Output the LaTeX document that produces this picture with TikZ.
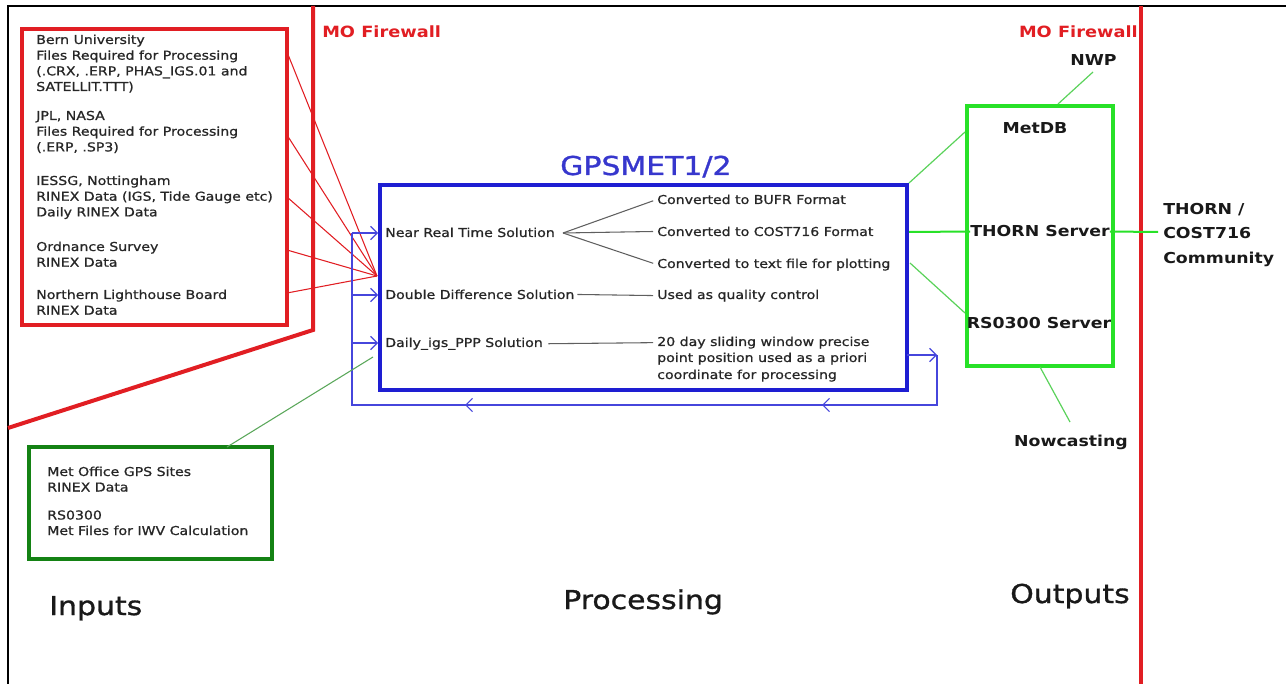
\documentclass[tikz,border=0pt]{standalone}
\usepackage{fontspec}
\setmainfont{DejaVu Sans}[FakeStretch=1.15]
\setsansfont{DejaVu Sans}[FakeStretch=1.15]
\newfontfamily\smallfnt{DejaVu Sans}[FakeStretch=1.15, FakeBold=0.9]
\newfontfamily\headfnt{DejaVu Sans}[FakeStretch=1.15, FakeBold=1.2]
\usetikzlibrary{arrows.meta,decorations.markings}
\definecolor{fwred}{RGB}{225,30,35}
\definecolor{bbox}{RGB}{30,30,210}
\definecolor{btitle}{RGB}{55,55,205}
\definecolor{bthin}{RGB}{70,70,220}
\definecolor{gbright}{RGB}{40,225,40}
\definecolor{gthin}{RGB}{90,210,90}
\definecolor{gdark}{RGB}{20,130,20}
\definecolor{greyline}{RGB}{95,95,95}
\tikzset{
  small/.style={font=\smallfnt\fontsize{9.2}{11}\selectfont, inner sep=0pt, anchor=base west, text=black!85},
  label/.style={font=\bfseries\fontsize{11.3}{13}\selectfont, inner sep=0pt, anchor=base, text=black!90},
  header/.style={font=\headfnt\fontsize{19.5}{22}\selectfont, inner sep=0pt, anchor=base west, text=black!90},
  fwtext/.style={font=\bfseries\fontsize{11.6}{13}\selectfont, inner sep=0pt, text=fwred},
  boxshape/.style={draw, line width=3pt, inner sep=0pt, fill=none},
  thinblue/.style={draw=bthin, line width=0.9pt},
  barb/.style={-{Straight Barb[length=5pt,width=10pt]}},
  fan/.style={draw=greyline, line width=0.8pt},
  gline/.style={draw=gthin, line width=0.9pt},
  gthick/.style={color=gbright, line width=1.5pt},
}
\begin{document}
\begin{tikzpicture}[x=0.75pt,y=-0.75pt]
\useasboundingbox (0,0) rectangle (1286,684);
% frame
\coordinate (ftl) at (8,6);
\coordinate (ftr) at (1286,6);
\coordinate (fbl) at (8,684);
\draw[line width=1.6pt] (ftr) -- (ftl) -- (fbl);
% firewalls
\coordinate (fw1a) at (313,6);
\coordinate (fw1b) at (313,330);
\coordinate (fw1c) at (8,428);
\draw[fwred, line width=3pt] (fw1a) -- (fw1b) -- (fw1c);
\coordinate (fw2a) at (1141,6);
\coordinate (fw2b) at (1141,684);
\draw[fwred, line width=2.6pt] (fw2a) -- (fw2b);
\node[fwtext, anchor=base west] (fwl) at (322,38) {MO Firewall};
\node[fwtext, anchor=base east] (fwr) at (1138,38) {MO Firewall};

% red input box
\node[boxshape, draw=fwred, minimum width=198.75pt, minimum height=222pt] (redbox) at (154.5,177) {};
\node[small] (b1) at (36,44) {Bern University};
\node[small] (b2) at (36,59.7) {Files Required for Processing};
\node[small] (b3) at (36,75.4) {(.CRX, .ERP, PHAS\_IGS.01 and};
\node[small] (b4) at (36,91) {SATELLIT.TTT)};
\node[small] (j1) at (36,120) {JPL, NASA};
\node[small] (j2) at (36,135.7) {Files Required for Processing};
\node[small] (j3) at (36,151.4) {(.ERP, .SP3)};
\node[small] (i1) at (36,185) {IESSG, Nottingham};
\node[small] (i2) at (36,200.7) {RINEX Data (IGS, Tide Gauge etc)};
\node[small] (i3) at (36,216.4) {Daily RINEX Data};
\node[small] (o1) at (36,251) {Ordnance Survey};
\node[small] (o2) at (36,266.7) {RINEX Data};
\node[small] (n1) at (36,299) {Northern Lighthouse Board};
\node[small] (n2) at (36,314.7) {RINEX Data};

% green input box
\node[boxshape, draw=gdark, minimum width=182.25pt, minimum height=84pt] (gbox) at (150.5,503) {};
\node[small] (g1) at (47,476) {Met Office GPS Sites};
\node[small] (g2) at (47,491.5) {RINEX Data};
\node[small] (g3) at (47,519.5) {RS0300};
\node[small] (g4) at (47,535) {Met Files for IWV Calculation};

% GPSMET box
\node[boxshape, draw=bbox, minimum width=395.25pt, minimum height=153.75pt] (gps) at (643.5,287.5) {};
\node[header, text=btitle] (gpst) at (560,175) {GPSMET1/2};
\node[small] (nrt) at (385,237) {Near Real Time Solution};
\node[small] (dd) at (385,299) {Double Difference Solution};
\node[small] (dly) at (385,347) {Daily\_igs\_PPP Solution};
\node[small] (bufr) at (657,204) {Converted to BUFR Format};
\node[small] (cost) at (657,236) {Converted to COST716 Format};
\node[small] (txt) at (657,268) {Converted to text file for plotting};
\node[small] (qc) at (657,299) {Used as quality control};
\node[small] (p1) at (657,346) {20 day sliding window precise};
\node[small] (p2) at (657,362) {point position used as a priori};
\node[small] (p3) at (657,379) {coordinate for processing};

% grey fan lines
\coordinate (fanpt) at (563,233);
\draw[fan, shorten >=3pt] (fanpt) -- (bufr.west);
\draw[fan, shorten >=3pt] (fanpt) -- (cost.west);
\draw[fan, shorten >=3pt] (fanpt) -- (txt.west);
\draw[fan, shorten <=2pt, shorten >=3pt] (dd.east) -- (qc.west);
\draw[fan, shorten <=4pt, shorten >=3pt] (dly.east) -- (p1.west);

% red input lines
\coordinate (conv) at (377,276);
\coordinate (r1) at (287,52);
\coordinate (r2) at (287,135);
\coordinate (r3) at (287,197);
\coordinate (r4) at (287,250);
\coordinate (r5) at (287,293);
\foreach \r in {r1,r2,r3,r4,r5} \draw[fwred, line width=0.8pt] (\r) -- (conv);

% blue feedback loop
\coordinate (lt) at (352,233);
\coordinate (ld) at (352,295);
\coordinate (ly) at (352,343);
\coordinate (lb) at (352,405);
\coordinate (rb) at (937,405);
\coordinate (rt) at (937,355);
\coordinate (boxr) at (907,355);
\draw[thinblue, barb] (boxr) -- (rt);
\draw[thinblue, postaction={decorate}, decoration={markings,
   mark=at position 123.75pt with {\arrow{Straight Barb[length=5pt,width=10pt]}},
   mark=at position 391.5pt with {\arrow{Straight Barb[length=5pt,width=10pt]}}}]
   (rt) -- (rb) -- (lb) -- (lt);
\draw[thinblue, barb] (lt) -- (lt -| gps.west);
\draw[thinblue, barb] (ld) -- (ld -| gps.west);
\draw[thinblue, barb] (ly) -- (ly -| gps.west);

% dark green line
\coordinate (gtop) at (227,447);
\coordinate (gend) at (373,357);
\draw[draw=gdark!70, line width=0.8pt] (gtop) -- (gend);

% output box
\node[boxshape, draw=gbright, minimum width=109.5pt, minimum height=195pt] (obox) at (1040,236) {};
\node[label] (nwp) at (1093.5,66) {NWP};
\node[label] (metdb) at (1035,134) {MetDB};
\node[label] (thorn) at (1040,237) {THORN Server};
\node[label] (rs) at (1039,329) {RS0300 Server};
\node[label] (now) at (1071,446) {Nowcasting};
\node[label, anchor=base west] (c1) at (1163,215) {THORN /};
\node[label, anchor=base west] (c2) at (1163,239) {COST716};
\node[label, anchor=base west] (c3) at (1163,264) {Community};

% green output lines
\coordinate (mdbin) at (965,132);
\coordinate (rsa) at (910,263);
\coordinate (rsb) at (965,313);
\coordinate (nwpa) at (1058,104);
\coordinate (nwpb) at (1093,72);
\coordinate (nowa) at (1040,367);
\coordinate (nowb) at (1070,422);
\coordinate (thl) at (909,232);
\coordinate (thr) at (1158,232);
\draw[gline] (gps.north east) -- (mdbin);
\draw[gthick] (thl) -- (thorn.west);
\draw[gthick] (thorn.east) -- (thr);
\draw[gline] (rsa) -- (rsb);
\draw[gline] (nwpa) -- (nwpb);
\draw[gline] (nowa) -- (nowb);

% section headers
\node[header] (inputs) at (49,615) {Inputs};
\node[header] (proc) at (563,609) {Processing};
\node[header] (outs) at (1010,603) {Outputs};
\end{tikzpicture}
\end{document}
